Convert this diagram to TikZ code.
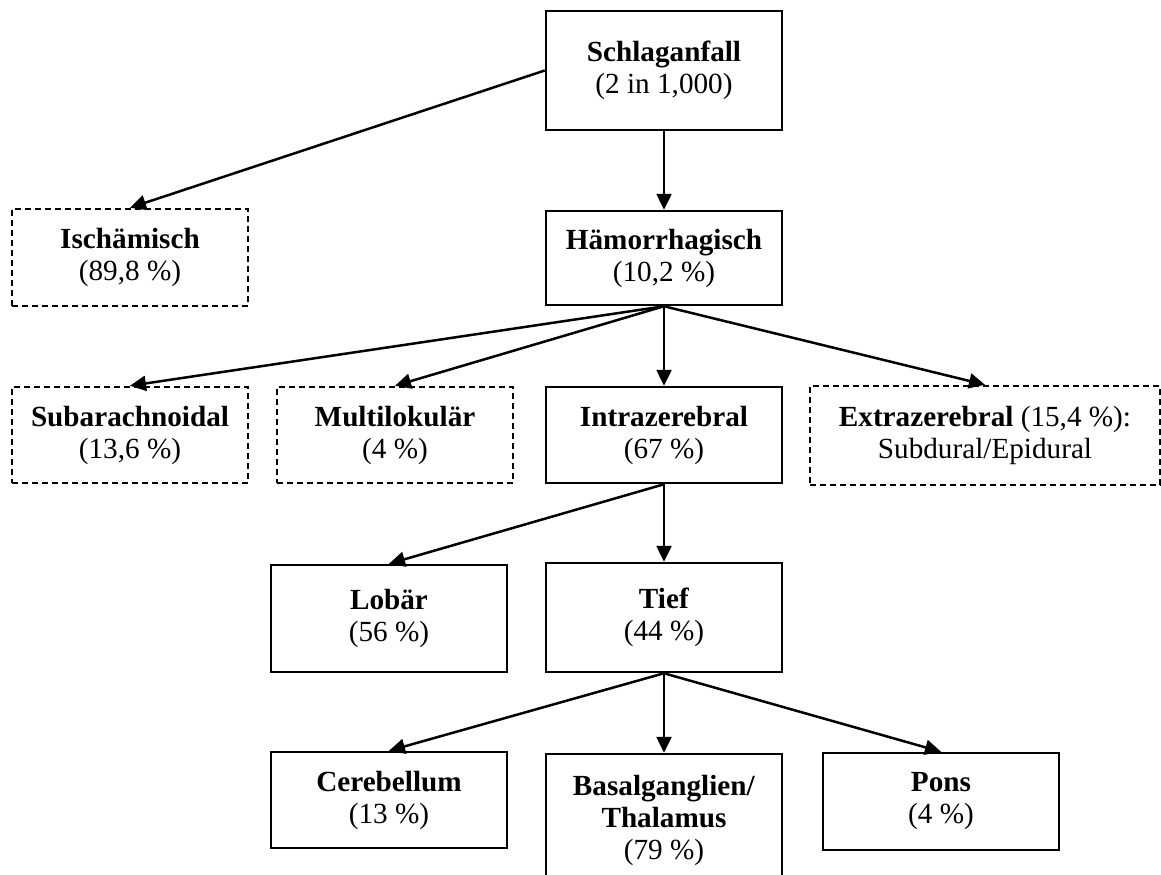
\documentclass[tikz,border=0pt]{standalone}
\usepackage{fontspec}
\setmainfont{Liberation Serif}
\usetikzlibrary{arrows.meta}

\begin{document}
\begin{tikzpicture}[x=0.5pt,y=-0.5pt]
    \tikzstyle{box}        = [draw,line width=1.25pt,minimum width=118pt,inner sep=0pt,align=center,font=\fontsize{14.6}{16}\selectfont]
    \tikzstyle{dashed box} = [box,dash pattern=on 3pt off 2pt]
    \tikzstyle{edge}       = [-{Triangle[length=8pt,width=7.5pt]},line width=1.25pt,black]

    \useasboundingbox (0,0) rectangle (1161,874);

    \node[box,minimum height=59.5pt]        (schlag)   at (664,70.5)  {\textbf{Schlaganfall}\\(2 in 1,000)};
    \node[dashed box,minimum height=48.5pt] (isch)     at (130,257.5) {\textbf{Ischämisch}\\(89,8 \%)};
    \node[box,minimum height=47pt]          (haemo)    at (664,258)   {\textbf{Hämorrhagisch}\\(10,2 \%)};

    \node[dashed box,minimum height=48pt]   (subarach) at (130,435)   {\textbf{Subarachnoidal}\\(13,6 \%)};
    \node[dashed box,minimum height=48pt]   (multi)    at (395,435)   {\textbf{Multilokulär}\\(4 \%)};
    \node[box,minimum height=48pt]          (intra)    at (664,435)   {\textbf{Intrazerebral}\\(67 \%)};
    \node[dashed box,minimum width=175pt,minimum height=49.5pt]
                                            (extra)    at (985,435.5) {\textbf{Extrazerebral} (15,4 \%):\\Subdural/Epidural};

    \node[box,minimum height=53.5pt]        (lobaer)   at (389,618.5) {\textbf{Lobär}\\(56 \%)};
    \node[box,minimum height=54.5pt]        (tief)     at (664,617.5) {\textbf{Tief}\\(44 \%)};

    \node[box,minimum height=48pt]          (cereb)    at (389,800)   {\textbf{Cerebellum}\\(13 \%)};
    \node[box,minimum height=66pt]          (basal)    at (664,820)   {\textbf{Basalganglien/}\\\textbf{Thalamus}\\(79 \%)};
    \node[box,minimum height=48.5pt]        (pons)     at (941,801.5) {\textbf{Pons}\\(4 \%)};

    \draw[edge] (schlag.west)  -- (isch.north);
    \draw[edge] (schlag.south) -- (haemo.north);
    \draw[edge] (haemo.south)  -- (subarach.north);
    \draw[edge] (haemo.south)  -- (multi.north);
    \draw[edge] (haemo.south)  -- (intra.north);
    \draw[edge] (haemo.south)  -- (extra.north);
    \draw[edge] (intra.south)  -- (lobaer.north);
    \draw[edge] (intra.south)  -- (tief.north);
    \draw[edge] (tief.south)   -- (cereb.north);
    \draw[edge] (tief.south)   -- (basal.north);
    \draw[edge] (tief.south)   -- (pons.north);
\end{tikzpicture}
\end{document}
